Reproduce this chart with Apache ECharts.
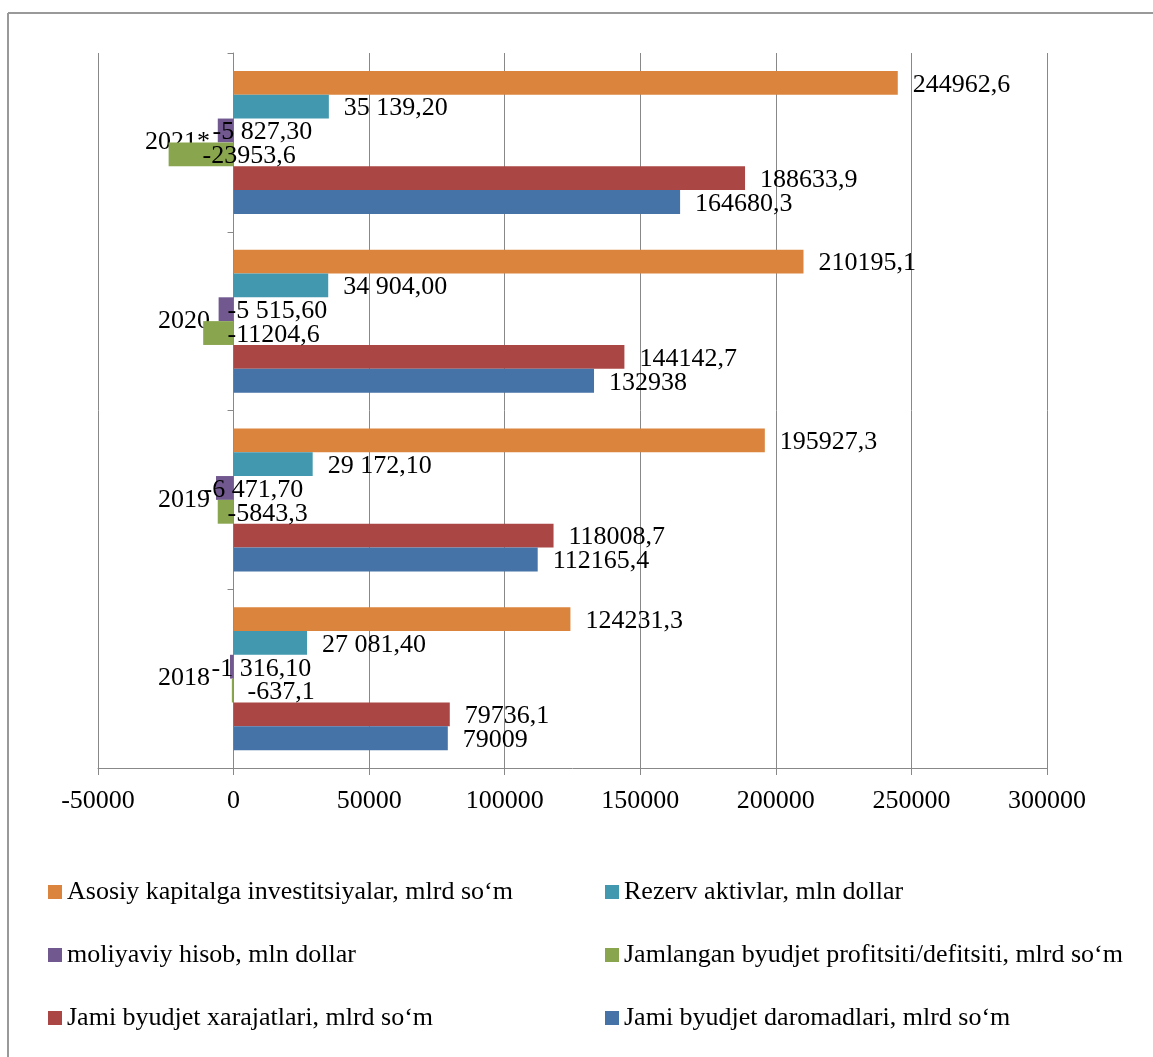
<!DOCTYPE html>
<html>
<head>
<meta charset="utf-8">
<script src="https://cdn.jsdelivr.net/npm/echarts@6/dist/echarts.min.js"></script>
<style>
  html, body { margin: 0; padding: 0; background: #fff; }
  #chart { width: 1153px; height: 1057px; }
</style>
</head>
<body>
<div id="chart"></div>
<script>
// ---- data ----
const categories = ['2018', '2019', '2020', '2021*'];

const nameInvest    = 'Asosiy kapitalga investitsiyalar, mlrd so\u2018m';
const nameRezerv    = 'Rezerv aktivlar, mln dollar';
const nameMoliya    = 'moliyaviy hisob, mln dollar';
const nameProfitsit = 'Jamlangan byudjet profitsiti/defitsiti, mlrd so\u2018m';
const nameXarajat   = 'Jami byudjet xarajatlari, mlrd so\u2018m';
const nameDaromad   = 'Jami byudjet daromadlari, mlrd so\u2018m';

const investitsiya  = [124231.3, 195927.3, 210195.1, 244962.6];
const rezerv        = [27081.40, 29172.10, 34904.00, 35139.20];
const moliyaviy     = [-1316.10, -6471.70, -5515.60, -5827.30];
const profitsit     = [-637.1, -5843.3, -11204.6, -23953.6];
const xarajatlari   = [79736.1, 118008.7, 144142.7, 188633.9];
const daromadlari   = [79009, 112165.4, 132938, 164680.3];

const xTicks = { min: -50000, max: 300000, step: 50000 };

// ---- styling ----
const FONT = '"Liberation Serif", "Times New Roman", serif';

function fmtComma(v) { return String(v).replace('.', ','); }
function fmtSpaced(v) {
  const s = Math.abs(v).toFixed(2).split('.');
  const intPart = s[0].replace(/\B(?=(\d{3})+(?!\d))/g, ' ');
  return (v < 0 ? '-' : '') + intPart + ',' + s[1];
}

// series listed top-to-bottom within each category group
const seriesDefs = [
  { name: nameInvest,    vals: investitsiya, color: '#DB843D', fmt: fmtComma },
  { name: nameRezerv,    vals: rezerv,       color: '#4198AF', fmt: fmtSpaced },
  { name: nameMoliya,    vals: moliyaviy,    color: '#71588F', fmt: fmtSpaced, shift: [-22, -30, -6, -21] },
  { name: nameProfitsit, vals: profitsit,    color: '#89A54E', fmt: fmtComma,  shift: [14, -6, -6, -31] },
  { name: nameXarajat,   vals: xarajatlari,  color: '#AA4643', fmt: fmtComma },
  { name: nameDaromad,   vals: daromadlari,  color: '#4572A7', fmt: fmtComma }
];

const series = seriesDefs.map(def => ({
  name: def.name,
  type: 'bar',
  barGap: '0%',
  barCategoryGap: '20%',
  itemStyle: { color: def.color },
  label: {
    show: true,
    position: 'right',
    distance: 15,
    offset: [0, 2],
    color: '#000',
    fontFamily: FONT,
    fontSize: 26,
    formatter: p => def.fmt(p.value)
  },
  data: def.vals.map((v, i) => {
    const d = { value: v };
    if (def.shift) d.label = { distance: 0, offset: [def.shift[i], 2] };
    return d;
  })
}));

const legendBase = {
  top: 879, orient: 'vertical', itemGap: 37, padding: 0,
  itemWidth: 14, itemHeight: 14, icon: 'rect',
  textStyle: { color: '#000', fontFamily: FONT, fontSize: 26, lineHeight: 26 }
};

const chart = echarts.init(document.getElementById('chart'));
chart.setOption({
  animation: false,
  backgroundColor: '#fff',
  textStyle: { fontFamily: FONT },
  grid: { left: 98, right: 106, top: 53, bottom: 289, containLabel: false },
  xAxis: {
    type: 'value',
    min: xTicks.min,
    max: xTicks.max,
    interval: xTicks.step,
    axisLine: { show: true, lineStyle: { color: '#888', width: 1 } },
    axisTick: { show: true, length: 7, lineStyle: { color: '#888' } },
    axisLabel: { color: '#000', fontFamily: FONT, fontSize: 26, margin: 20, formatter: v => String(v) },
    splitLine: { show: true, lineStyle: { color: '#888', width: 1 } }
  },
  yAxis: {
    type: 'category',
    data: categories,
    axisLine: { show: true, onZero: true, lineStyle: { color: '#888', width: 1 } },
    axisTick: { show: true, length: 6, lineStyle: { color: '#888' } },
    axisLabel: { color: '#000', fontFamily: FONT, fontSize: 26, margin: -112, padding: [6, 0, 0, 0] },
    splitLine: { show: false }
  },
  legend: [
    Object.assign({}, legendBase, { left: 48, data: [nameInvest, nameMoliya, nameXarajat] }),
    Object.assign({}, legendBase, { left: 605, data: [nameRezerv, nameProfitsit, nameDaromad] })
  ],
  graphic: [
    { type: 'line', shape: { x1: 8, y1: 13, x2: 1153, y2: 13 }, style: { stroke: '#999', lineWidth: 2 } },
    { type: 'line', shape: { x1: 8, y1: 13, x2: 8, y2: 1057 }, style: { stroke: '#999', lineWidth: 2 } }
  ],
  series: series
});
</script>
</body>
</html>
